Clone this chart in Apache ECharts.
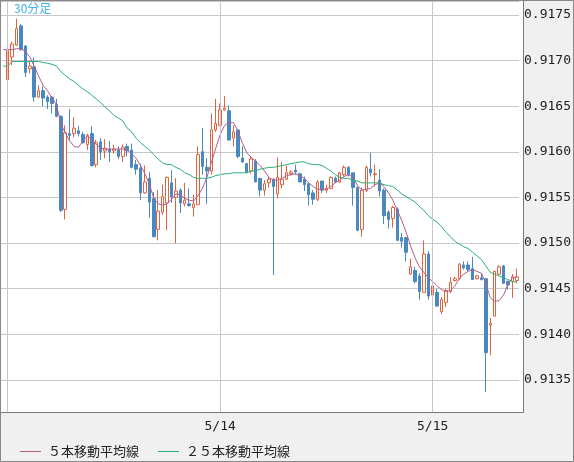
<!DOCTYPE html>
<html><head><meta charset="utf-8">
<script src="https://cdn.jsdelivr.net/npm/echarts@6/dist/echarts.min.js"></script>
<style>html,body{margin:0;padding:0;background:#f0f0f0}#c{width:574px;height:462px}</style>
</head><body><div id="c"></div>
<script>
// 30-minute bars, first slot (5/12 23:30) has moving averages only
const startDay = 12;
const startMinute = 23 * 60 + 30;
const barCount = 117;
const gridDays = ['5/13 00:00', '5/14 00:00', '5/15 00:00'];
const labelDays = ['5/14 00:00', '5/15 00:00'];
const seriesNames = ['５本移動平均線', '２５本移動平均線'];

const opens = [0.91679,0.91704,0.91717,0.91738,0.91716,0.91691,0.91693,0.91660,0.91667,0.91660,
0.91660,0.91652,0.91639,0.91537,0.91620,0.91620,0.91623,0.91619,0.91608,0.91620,
0.91586,0.91611,0.91601,0.91603,0.91601,0.91602,0.91595,0.91606,0.91602,0.91586,
0.91582,0.91555,0.91571,0.91549,0.91515,0.91534,0.91544,0.91566,0.91550,0.91558,
0.91543,0.91543,0.91539,0.91542,0.91600,0.91583,0.91579,0.91624,0.91629,0.91646,
0.91645,0.91615,0.91624,0.91593,0.91587,0.91579,0.91590,0.91571,0.91558,0.91566,
0.91570,0.91554,0.91564,0.91570,0.91576,0.91580,0.91576,0.91570,0.91565,0.91555,
0.91548,0.91568,0.91558,0.91560,0.91571,0.91567,0.91575,0.91583,0.91577,0.91561,
0.91515,0.91558,0.91581,0.91575,0.91569,0.91558,0.91534,0.91527,0.91537,0.91506,
0.91506,0.91466,0.91470,0.91464,0.91446,0.91488,0.91443,0.91446,0.91425,0.91435,
0.91447,0.91459,0.91461,0.91476,0.91476,0.91472,0.91461,0.91462,0.91461,0.91410,
0.91420,0.91466,0.91475,0.91458,0.91458,0.91459];

const closes = [0.91711,0.91718,0.91735,0.91712,0.91687,0.91694,0.91660,0.91667,0.91659,0.91655,
0.91653,0.91639,0.91536,0.91621,0.91618,0.91626,0.91620,0.91610,0.91618,0.91585,
0.91610,0.91600,0.91604,0.91600,0.91603,0.91595,0.91605,0.91601,0.91583,0.91581,
0.91555,0.91567,0.91545,0.91507,0.91535,0.91551,0.91572,0.91551,0.91557,0.91544,
0.91547,0.91541,0.91543,0.91597,0.91584,0.91579,0.91624,0.91631,0.91646,0.91648,
0.91613,0.91622,0.91595,0.91589,0.91578,0.91592,0.91567,0.91558,0.91565,0.91570,
0.91562,0.91572,0.91570,0.91577,0.91578,0.91578,0.91567,0.91564,0.91553,0.91548,
0.91567,0.91558,0.91560,0.91572,0.91567,0.91577,0.91583,0.91575,0.91561,0.91514,
0.91558,0.91583,0.91577,0.91576,0.91557,0.91530,0.91526,0.91539,0.91503,0.91502,
0.91490,0.91474,0.91458,0.91447,0.91488,0.91442,0.91453,0.91431,0.91438,0.91448,
0.91457,0.91461,0.91477,0.91473,0.91471,0.91460,0.91464,0.91460,0.91380,0.91412,
0.91469,0.91474,0.91456,0.91454,0.91463,0.91463];

const lows = [0.91670,0.91695,0.91716,0.91711,0.91682,0.91686,0.91655,0.91659,0.91650,0.91647,
0.91642,0.91638,0.91534,0.91526,0.91613,0.91616,0.91617,0.91609,0.91602,0.91584,
0.91583,0.91591,0.91593,0.91589,0.91598,0.91592,0.91589,0.91595,0.91582,0.91575,
0.91547,0.91554,0.91528,0.91507,0.91503,0.91531,0.91514,0.91544,0.91500,0.91533,
0.91540,0.91540,0.91529,0.91542,0.91575,0.91543,0.91575,0.91622,0.91628,0.91645,
0.91612,0.91606,0.91593,0.91588,0.91577,0.91576,0.91567,0.91551,0.91552,0.91561,
0.91465,0.91549,0.91560,0.91569,0.91574,0.91575,0.91567,0.91557,0.91541,0.91542,
0.91546,0.91555,0.91555,0.91559,0.91566,0.91566,0.91573,0.91573,0.91541,0.91513,
0.91507,0.91556,0.91573,0.91562,0.91551,0.91521,0.91516,0.91517,0.91502,0.91495,
0.91480,0.91465,0.91456,0.91438,0.91446,0.91438,0.91442,0.91430,0.91422,0.91430,
0.91445,0.91458,0.91460,0.91471,0.91469,0.91460,0.91460,0.91459,0.91337,0.91377,
0.91420,0.91465,0.91455,0.91449,0.91440,0.91456];

const highs = [0.91712,0.91721,0.91746,0.91740,0.91717,0.91700,0.91703,0.91673,0.91672,0.91662,
0.91661,0.91658,0.91640,0.91629,0.91647,0.91638,0.91628,0.91622,0.91620,0.91628,
0.91613,0.91615,0.91614,0.91612,0.91608,0.91606,0.91608,0.91609,0.91609,0.91591,
0.91587,0.91585,0.91578,0.91556,0.91558,0.91564,0.91573,0.91580,0.91571,0.91560,
0.91566,0.91560,0.91553,0.91606,0.91626,0.91593,0.91642,0.91658,0.91653,0.91661,
0.91651,0.91629,0.91625,0.91606,0.91588,0.91595,0.91592,0.91571,0.91569,0.91573,
0.91571,0.91594,0.91589,0.91585,0.91580,0.91586,0.91577,0.91573,0.91566,0.91558,
0.91569,0.91568,0.91564,0.91573,0.91573,0.91578,0.91585,0.91584,0.91577,0.91562,
0.91561,0.91585,0.91599,0.91586,0.91581,0.91560,0.91536,0.91541,0.91539,0.91511,
0.91507,0.91483,0.91474,0.91467,0.91503,0.91491,0.91471,0.91450,0.91441,0.91450,
0.91463,0.91463,0.91478,0.91480,0.91480,0.91485,0.91465,0.91467,0.91461,0.91418,
0.91470,0.91476,0.91476,0.91459,0.91466,0.91472];

const ma5 = [0.91712,0.91712,0.91712,0.91713,0.91713,0.91710,0.91704,0.91694,0.91683,0.91673,
0.91667,0.91659,0.91652,0.91631,0.91621,0.91612,0.91606,0.91605,0.91612,0.91617,
0.91614,0.91608,0.91604,0.91603,0.91603,0.91603,0.91603,0.91603,0.91602,0.91598,
0.91593,0.91585,0.91576,0.91565,0.91549,0.91543,0.91542,0.91543,0.91548,0.91554,
0.91553,0.91549,0.91547,0.91546,0.91552,0.91560,0.91572,0.91588,0.91604,0.91619,
0.91629,0.91632,0.91632,0.91623,0.91610,0.91599,0.91594,0.91590,0.91585,0.91579,
0.91572,0.91569,0.91569,0.91571,0.91574,0.91575,0.91576,0.91574,0.91571,0.91566,
0.91562,0.91559,0.91559,0.91559,0.91562,0.91566,0.91569,0.91573,0.91575,0.91572,
0.91563,0.91558,0.91559,0.91560,0.91564,0.91566,0.91562,0.91555,0.91547,0.91536,
0.91525,0.91512,0.91497,0.91484,0.91474,0.91468,0.91462,0.91458,0.91453,0.91449,
0.91447,0.91448,0.91453,0.91461,0.91466,0.91469,0.91471,0.91469,0.91467,0.91456,
0.91440,0.91436,0.91437,0.91443,0.91455,0.91462,0.91463];

const ma25 = [0.91694,0.91694,0.91699,0.91699,0.91699,0.91699,0.91699,0.91699,0.91699,0.91698,
0.91697,0.91696,0.91694,0.91688,0.91684,0.91680,0.91677,0.91673,0.91669,0.91666,
0.91662,0.91658,0.91654,0.91649,0.91645,0.91640,0.91637,0.91634,0.91626,0.91622,
0.91615,0.91610,0.91606,0.91602,0.91597,0.91592,0.91588,0.91586,0.91586,0.91583,
0.91581,0.91577,0.91575,0.91572,0.91571,0.91571,0.91571,0.91572,0.91574,0.91575,
0.91576,0.91576,0.91577,0.91577,0.91577,0.91577,0.91579,0.91579,0.91581,0.91582,
0.91583,0.91583,0.91584,0.91585,0.91586,0.91587,0.91588,0.91589,0.91589,0.91587,
0.91586,0.91586,0.91585,0.91582,0.91579,0.91575,0.91572,0.91571,0.91571,0.91569,
0.91568,0.91566,0.91566,0.91566,0.91566,0.91566,0.91564,0.91563,0.91562,0.91558,
0.91554,0.91551,0.91548,0.91545,0.91540,0.91536,0.91530,0.91526,0.91523,0.91518,
0.91512,0.91507,0.91502,0.91499,0.91496,0.91494,0.91490,0.91486,0.91482,0.91475,
0.91468,0.91466,0.91464,0.91462,0.91460,0.91458,0.91457];

// category labels (time of each bar)
const categories = [];
for (let k = 0; k < barCount; k++) {
  const t = startMinute + 30 * k;
  const d = startDay + Math.floor(t / 1440);
  const m = t % 1440;
  categories.push('5/' + d + ' ' + String(Math.floor(m / 60)).padStart(2, '0') + ':' + String(m % 60).padStart(2, '0'));
}
const candleData = [['-', '-', '-', '-']].concat(opens.map((o, i) => [o, closes[i], lows[i], highs[i]]));
const emptyData = categories.map(() => '-');

const UP = '#e0633f', DOWN = '#4a88c0', C5 = '#b85c8c', C25 = '#2aae78', GRID = '#c8c8c8';
const mono = 'DejaVu Sans Mono';
const cjk = 'Noto Sans CJK JP';

const chart = echarts.init(document.getElementById('c'), null, { renderer: 'canvas' });
chart.setOption({
  animation: false,
  backgroundColor: '#f0f0f0',
  grid: { left: 1, top: 1, width: 520.5, height: 411, containLabel: false },
  graphic: { elements: [
    { type: 'rect', z: -10, silent: true, shape: { x: 0, y: 0, width: 523.5, height: 412.5 }, style: { fill: '#ffffff' } },
    { type: 'rect', z: 100, silent: true, shape: { x: 0.5, y: 0.5, width: 523, height: 412 }, style: { fill: null, stroke: '#7a7a7a', lineWidth: 1 } },
    { type: 'rect', z: 100, silent: true, shape: { x: 0.5, y: 0.5, width: 573, height: 461 }, style: { fill: null, stroke: '#888888', lineWidth: 1 } },
    { type: 'text', z: 100, silent: true, x: 14, y: 2, style: { text: '30分足', fill: '#3ab0ea', fontSize: 12, fontFamily: cjk } }
  ] },
  legend: {
    data: seriesNames, left: 15, top: 440, icon: 'rect', itemWidth: 21, itemHeight: 1, itemGap: 19,
    selectedMode: false,
    textStyle: { fontFamily: cjk, fontSize: 13, color: '#222', padding: [0, 0, 0, 2] }
  },
  xAxis: {
    type: 'category', data: categories, boundaryGap: true,
    axisLine: { show: false }, axisTick: { show: false }, splitLine: { show: false },
    axisLabel: {
      interval: (i, v) => labelDays.includes(v),
      formatter: v => v.split(' ')[0],
      color: '#222', fontFamily: mono, fontSize: 13, margin: 8
    }
  },
  yAxis: {
    type: 'value', position: 'right', scale: true,
    min: 0.913149, max: 0.917653, splitNumber: 9, minInterval: 0.0005, maxInterval: 0.0005,
    axisLine: { show: false }, axisTick: { show: false },
    splitLine: { lineStyle: { color: GRID, width: 1 } },
    axisLabel: {
      formatter: v => (Math.abs(v / 0.0005 - Math.round(v / 0.0005)) < 1e-4 ? v.toFixed(4) : ''),
      color: '#222', fontFamily: mono, fontSize: 13, margin: 5
    }
  },
  series: [
    { type: 'line', data: emptyData, silent: true, z: 1, symbol: 'none',
      markLine: { silent: true, symbol: ['none', 'none'], label: { show: false },
        lineStyle: { color: GRID, width: 1, type: 'solid' },
        emphasis: { disabled: true },
        data: gridDays.map(d => ({ xAxis: d })) } },
    { type: 'candlestick', name: 'candles', data: candleData, barWidth: 3, z: 2,
      itemStyle: { color: '#ffffff', color0: DOWN, borderColor: UP, borderColor0: DOWN, borderWidth: 1 } },
    { type: 'line', name: seriesNames[0], data: ma5, symbol: 'none', z: 3,
      lineStyle: { color: C5, width: 1 }, itemStyle: { color: C5 } },
    { type: 'line', name: seriesNames[1], data: ma25, symbol: 'none', z: 3,
      lineStyle: { color: C25, width: 1 }, itemStyle: { color: C25 } }
  ]
});
</script>
</body></html>
